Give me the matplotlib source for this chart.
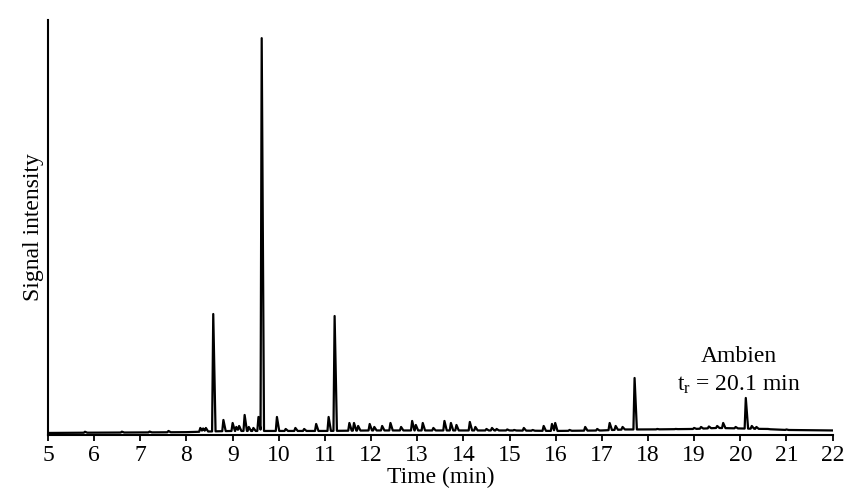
import matplotlib
matplotlib.use('Agg')
import matplotlib.pyplot as plt
import numpy as np

plt.rcParams['font.family'] = ['Liberation Serif', 'DejaVu Serif']
plt.rcParams['mathtext.fontset'] = 'stix'

# baseline drift of the trace (time in min, signal in arbitrary units)
base_t = [5.0, 6.0, 7.0, 8.0, 8.5, 9.0, 10.0, 11.0, 12.0, 13.0, 14.0, 15.0,
          16.0, 17.0, 17.5, 18.0, 19.0, 19.5, 20.0, 20.5, 21.0, 22.0]
base_y = [2.0, 2.3, 2.5, 2.8, 3.5, 4.0, 4.0, 4.0, 4.5, 4.5, 4.5, 4.5,
          4.0, 4.5, 5.5, 5.5, 6.0, 7.0, 6.5, 6.0, 5.0, 4.5]

# peak table: retention time and apex signal
peak_rt = [5.80, 6.60, 7.20, 7.61, 8.30, 8.36, 8.42, 8.58, 8.80, 9.00, 9.08, 9.14,
           9.26, 9.35, 9.45, 9.56, 9.63, 9.96, 10.15, 10.36, 10.55, 10.81, 11.08,
           11.21, 11.53, 11.63, 11.72, 11.97, 12.07, 12.24, 12.42, 12.65, 12.89, 12.97,
           13.12, 13.35, 13.59, 13.73, 13.85, 14.14, 14.26, 14.50, 14.62, 14.72, 14.95,
           15.10, 15.31, 15.50, 15.74, 15.92, 15.99, 16.30, 16.64, 16.90, 17.17, 17.30,
           17.45, 17.71, 18.20, 18.60, 19.00, 19.15, 19.32, 19.50, 19.63, 19.90, 20.12,
           20.25, 20.35, 20.60, 21.00]
peak_h = [3.2, 3.3, 3.4, 4.0, 7, 6.5, 7, 121, 15, 12, 8, 9,
          20, 8, 7, 18, 397, 18, 6, 7, 6, 11, 18,
          119, 12, 12, 9, 11, 8, 9, 12, 8, 14, 10,
          12, 7, 14, 12, 10, 13, 8, 6, 7, 6, 5.5,
          5, 7, 5, 9, 11, 12, 5, 8, 6, 12, 9,
          8, 57, 6, 6, 7, 8, 8.5, 9, 12, 8, 37,
          9, 8, 6, 5.5]

xticks = list(range(5, 23))

# piecewise-linear trace through baseline knots and peak vertices
wl, wr = 0.025, 0.05
xs = sorted(set(base_t) | set(peak_rt)
            | {r - wl for r in peak_rt} | {r + wr for r in peak_rt})
xs = np.array(xs)
base = np.interp(xs, base_t, base_y)
sig = base.copy()
for r, h in zip(peak_rt, peak_h):
    b = np.interp(r, base_t, base_y)
    tri = np.interp(xs, [r - wl, r, r + wr], [0, h - b, 0], left=0, right=0)
    sig = np.maximum(sig, base + tri)

fig = plt.figure(figsize=(8.64, 5.04), dpi=100)
ax = fig.add_axes([0.0556, 0.137, 0.908, 0.823])
ax.plot(xs, sig, color='black', lw=1.6)

ax.set_xlim(5, 22)
ax.set_ylim(0, 415)
ax.set_xticks(xticks)
ax.set_yticks([])
ax.tick_params(axis='x', direction='out', length=4, width=1.3, labelsize=17, pad=3)
for s in ['top', 'right']:
    ax.spines[s].set_visible(False)
for s in ['left', 'bottom']:
    ax.spines[s].set_linewidth(1.5)

ax.set_xlabel('Time (min)', fontsize=17, labelpad=1)
ax.set_ylabel('Signal intensity', fontsize=17, labelpad=3)

ax.text(19.97, 78, 'Ambien', fontsize=17, ha='center', va='center')
ax.text(19.97, 50, r'$\mathregular{t_r}$ = 20.1 min', fontsize=17, ha='center', va='center')

fig.savefig('out.png', dpi=100)
